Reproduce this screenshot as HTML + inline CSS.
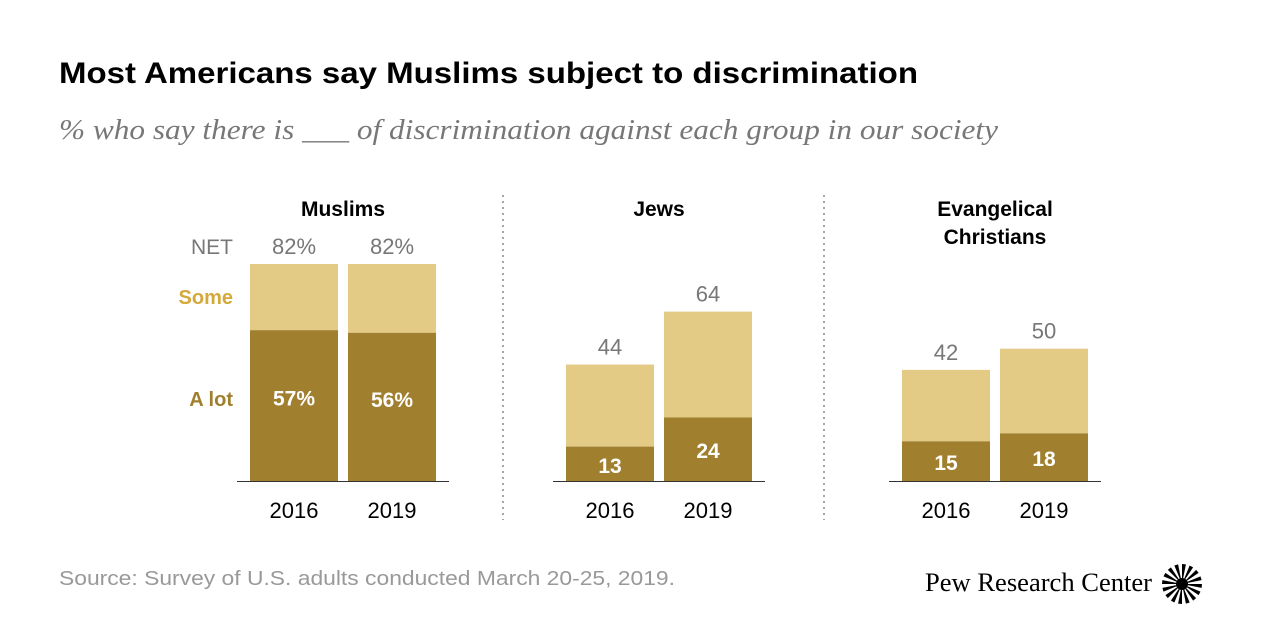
<!DOCTYPE html>
<html><head><meta charset="utf-8"><style>
body{margin:0;background:#fff;}
svg{display:block;font-family:"Liberation Sans",sans-serif;}
</style></head><body>
<svg id="c" width="1280" height="640" viewBox="0 0 1280 640">
<text x="59" y="83" font-size="30" font-weight="bold" fill="#000" textLength="859" lengthAdjust="spacingAndGlyphs">Most Americans say Muslims subject to discrimination</text>
<text x="59" y="139" font-size="29" font-style="italic" fill="#777" font-family="Liberation Serif, serif" textLength="939" lengthAdjust="spacingAndGlyphs">% who say there is ___ of discrimination against each group in our society</text>
<line x1="503" y1="195" x2="503" y2="520" stroke="#888" stroke-width="1.5" stroke-dasharray="2,4"/>
<line x1="824" y1="195" x2="824" y2="520" stroke="#888" stroke-width="1.5" stroke-dasharray="2,4"/>
<text x="233" y="254" font-size="21" fill="#777" text-anchor="end">NET</text>
<text x="233" y="304" font-size="20" font-weight="bold" fill="#d4a93a" text-anchor="end">Some</text>
<text x="233" y="406" font-size="20" font-weight="bold" fill="#a07f2f" text-anchor="end">A lot</text>
<text x="59" y="585" font-size="20" fill="#999" textLength="616" lengthAdjust="spacingAndGlyphs">Source: Survey of U.S. adults conducted March 20-25, 2019.</text>
<text x="925" y="591" font-size="26" fill="#000" textLength="227" lengthAdjust="spacingAndGlyphs" font-family="Liberation Serif, serif">Pew Research Center</text>
<g id="logo"></g>
<g id="marks"></g>
</svg>
<script>
const groups = ["Muslims", "Jews", "Evangelical|Christians"];
const years = ["2016", "2019"];
const netValues = [[82, 82], [44, 64], [42, 50]];
const aLotValues = [[57, 56], [13, 24], [15, 18]];
const netLabels = [["82%", "82%"], ["44", "64"], ["42", "50"]];
const aLotLabels = [["57%", "56%"], ["13", "24"], ["15", "18"]];

const NS = "http://www.w3.org/2000/svg";
const g = document.getElementById("marks");
const baseY = 481, scale = 217 / 82;
const y = v => baseY - v * scale;
const groupX = [250, 566, 902];
const barW = 88, gap = 10;
function mk(tag, attrs, txt) {
  const e = document.createElementNS(NS, tag);
  for (const k in attrs) e.setAttribute(k, attrs[k]);
  if (txt !== undefined) e.textContent = txt;
  g.appendChild(e);
  return e;
}
groups.forEach((name, gi) => {
  const x0 = groupX[gi];
  const cx = x0 + barW + gap / 2;
  const lines = name.split("|");
  lines.forEach((ln, li) => {
    const t = mk("text", {x: cx, y: 216 + li * 28, "font-size": 21, "font-weight": "bold", "text-anchor": "middle", fill: "#000"}, ln);
    
    
  });
  const ax = mk("line", {x1: x0 - 13, x2: x0 + 2 * barW + gap + 13, y1: baseY + 0.5, y2: baseY + 0.5, stroke: "#333", "stroke-width": 1});
  
  
  years.forEach((yr, yi) => {
    const bx = x0 + yi * (barW + gap);
    const n = netValues[gi][yi], a = aLotValues[gi][yi];
    const r1 = mk("rect", {x: bx, y: y(n), width: barW, height: (n - a) * scale, fill: "#e3cb85"});
    
    
    const r2 = mk("rect", {x: bx, y: y(a), width: barW, height: a * scale, fill: "#a07f2f"});
    
    
    const t1 = mk("text", {x: bx + barW / 2, y: y(n) - 10, "font-size": 22, fill: "#777", "text-anchor": "middle"}, netLabels[gi][yi]);
    
    
    const ay = gi === 0 ? y(a) + a * scale * 0.5 : (y(a) + baseY) / 2 + 9;
    const t2 = mk("text", {x: bx + barW / 2, y: ay, "font-size": 21, "font-weight": "bold", fill: "#fff", "text-anchor": "middle"}, aLotLabels[gi][yi]);
    
    
    const t3 = mk("text", {x: bx + barW / 2, y: 518, "font-size": 22, fill: "#000", "text-anchor": "middle"}, yr);
    
    
  });
});
const lg = document.getElementById("logo");
const lcx = 1182, lcy = 584;
for (let i = 0; i < 16; i++) {
  const a1 = i * Math.PI / 8, a2 = a1 + Math.PI / 16;
  const p = document.createElementNS(NS, "path");
  p.setAttribute("d", `M${lcx},${lcy} L${lcx + 20 * Math.cos(a1)},${lcy + 20 * Math.sin(a1)} L${lcx + 20 * Math.cos(a2)},${lcy + 20 * Math.sin(a2)} Z`);
  p.setAttribute("fill", "#000");
  lg.appendChild(p);
}
const cc = document.createElementNS(NS, "circle");
cc.setAttribute("cx", lcx); cc.setAttribute("cy", lcy); cc.setAttribute("r", 6); cc.setAttribute("fill", "#000");
lg.appendChild(cc);
</script>
</body></html>
